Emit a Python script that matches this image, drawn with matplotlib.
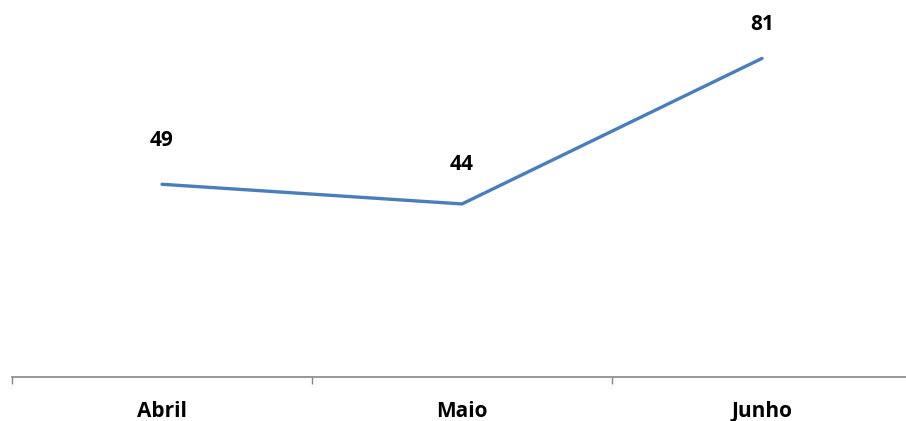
import matplotlib.pyplot as plt

meses = ["Abril", "Maio", "Junho"]
valores = [49, 44, 81]

plt.rcParams['font.family'] = ['Open Sans', 'DejaVu Sans']

fig = plt.figure(figsize=(9.06, 4.21), dpi=100)
ax = fig.add_axes([12 / 906, 44 / 421, 900 / 906, 354 / 421])

x = list(range(len(meses)))
ax.plot(x, valores, color='#4A7EBB', linewidth=2.4, solid_capstyle='round')

offsets = [24, 21, 17]
for xi, v, off in zip(x, valores, offsets):
    ax.annotate(str(v), (xi, v), xytext=(0, off), textcoords='offset points',
                ha='center', va='bottom', fontsize=15, fontweight='bold')

ax.set_xlim(-0.5, 2.5)
ax.set_ylim(0, 90)
ax.set_xticks(x)
ax.set_xticklabels(meses, fontsize=15, fontweight='bold')
ax.tick_params(axis='x', which='major', length=0, pad=17)
ax.set_xticks([-0.5, 0.5, 1.5, 2.5], minor=True)
ax.tick_params(axis='x', which='minor', length=5, width=1, color='#868686')
ax.set_yticks([])
for s in ['top', 'right', 'left']:
    ax.spines[s].set_visible(False)
ax.spines['bottom'].set_color('#868686')
ax.spines['bottom'].set_linewidth(1.2)

fig.savefig('out.png', dpi=100)
